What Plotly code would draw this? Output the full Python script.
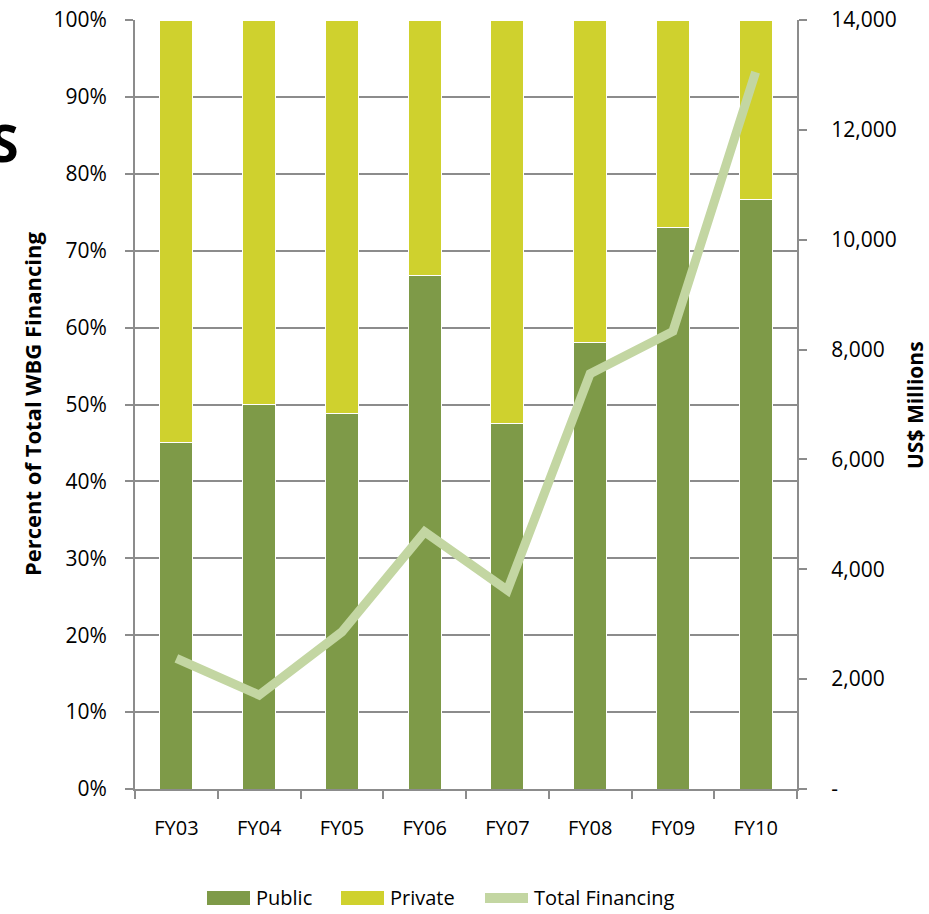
import plotly.graph_objects as go

categories = ["FY03", "FY04", "FY05", "FY06", "FY07", "FY08", "FY09", "FY10"]
public_pct = [45.0, 50.0, 48.8, 66.8, 47.5, 58.0, 73.0, 76.7]
private_pct = [round(100 - v, 1) for v in public_pct]
total_financing = [2380, 1710, 2860, 4680, 3620, 7560, 8330, 13050]

left_ticks = [0, 10, 20, 30, 40, 50, 60, 70, 80, 90, 100]
left_labels = [f"{v}%" for v in left_ticks]
right_ticks = [0, 2000, 4000, 6000, 8000, 10000, 12000, 14000]
right_labels = ["-", "2,000", "4,000", "6,000", "8,000", "10,000", "12,000", "14,000"]

C_PUBLIC = "#7e9a48"
C_PRIVATE = "#cfd12e"
C_TOTAL = "#c3d6a2"
GRID = "#8c8c8c"
FONT = "Open Sans"

W, H = 929, 914
L, R, T, B = 135, 132, 20, 125
PW, PH = W - L - R, H - T - B

def px(x):
    return (x - L) / PW

def py(y):
    return (H - B - y) / PH

fig = go.Figure()
fig.add_trace(go.Bar(x=categories, y=public_pct, name="Public", marker=dict(color=C_PUBLIC, line=dict(color="white", width=1)),
                     width=0.4, showlegend=False))
fig.add_trace(go.Bar(x=categories, y=private_pct, name="Private", marker=dict(color=C_PRIVATE, line=dict(color="white", width=1)),
                     width=0.4, showlegend=False))
fig.add_trace(go.Scatter(x=categories, y=total_financing, name="Total Financing", yaxis="y2", mode="lines",
                         line=dict(color=C_TOTAL, width=9), showlegend=False))

fig.update_layout(
    width=W, height=H,
    margin=dict(l=L, r=R, t=T, b=B, pad=0, autoexpand=False),
    barmode="stack",
    showlegend=False,
    plot_bgcolor="white", paper_bgcolor="white",
    font=dict(family=FONT, size=20, color="black"),
    xaxis=dict(type="category", automargin=False, showline=True, linecolor=GRID, linewidth=2, ticks="outside",
               ticklen=8, tickcolor=GRID, tickwidth=2, tickson="boundaries", showgrid=False, ticklabelstandoff=20,
               tickfont=dict(size=20)),
    yaxis=dict(range=[0, 100], automargin=False, tickvals=left_ticks, ticktext=left_labels, showline=True,
               linecolor=GRID, linewidth=2, ticks="outside", ticklen=8, tickcolor=GRID, tickwidth=2, showgrid=True,
               gridcolor=GRID, gridwidth=1.5, zeroline=False, ticklabelstandoff=14, tickfont=dict(size=21)),
    yaxis2=dict(range=[0, 14000], automargin=False, tickvals=right_ticks, ticktext=right_labels, overlaying="y",
                side="right", showline=True, linecolor=GRID, linewidth=2, ticks="outside", ticklen=8,
                tickcolor=GRID, tickwidth=2, showgrid=False, zeroline=False, ticklabelstandoff=20,
                tickfont=dict(size=21)),
)

annotations = [
    dict(text="<b>Percent of Total WBG Financing</b>", x=px(32), y=py(404), xref="paper", yref="paper",
         xanchor="center", yanchor="middle", textangle=-90, showarrow=False, font=dict(size=22)),
    dict(text="<b>US$ Millions</b>", x=px(915), y=py(405), xref="paper", yref="paper",
         xanchor="center", yanchor="middle", textangle=-90, showarrow=False, font=dict(size=21)),
    dict(text="<b>S</b>", x=px(21), y=py(141), xref="paper", yref="paper", xanchor="right", yanchor="middle",
         showarrow=False, font=dict(size=52)),
    dict(text="Public", x=px(254), y=py(898), xref="paper", yref="paper", xanchor="left", yanchor="middle",
         showarrow=False),
    dict(text="Private", x=px(388), y=py(898), xref="paper", yref="paper", xanchor="left", yanchor="middle",
         showarrow=False),
    dict(text="Total Financing", x=px(532), y=py(898), xref="paper", yref="paper", xanchor="left",
         yanchor="middle", showarrow=False),
]
fig.update_layout(annotations=annotations)

shapes = [
    dict(type="rect", xref="paper", yref="paper", x0=px(207), x1=px(250), y0=py(905), y1=py(891),
         fillcolor=C_PUBLIC, line=dict(width=0)),
    dict(type="rect", xref="paper", yref="paper", x0=px(341), x1=px(384), y0=py(905), y1=py(891),
         fillcolor=C_PRIVATE, line=dict(width=0)),
    dict(type="line", xref="paper", yref="paper", x0=px(485), x1=px(528), y0=py(898), y1=py(898),
         line=dict(color=C_TOTAL, width=10)),
]
fig.update_layout(shapes=shapes)

fig.write_html("out.html", config={"displayModeBar": False},
               post_script="document.body.style.margin='0';document.body.style.overflow='hidden';")
